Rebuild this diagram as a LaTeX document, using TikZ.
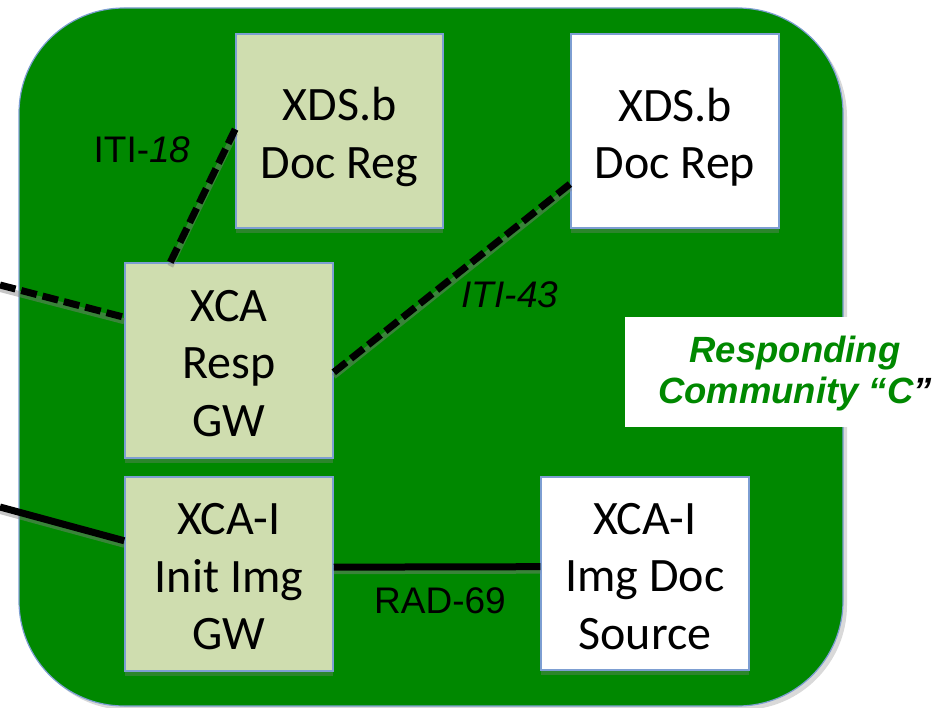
\documentclass[tikz,border=0pt]{standalone}
\usepackage{fontspec}
\setmainfont{Carlito}
\newfontfamily\arialfont{Liberation Sans}
\usetikzlibrary{shadows,calc}
\definecolor{commgreen}{RGB}{0,136,0}
\definecolor{boxfill}{RGB}{207,221,175}
\definecolor{edgeblue}{RGB}{125,158,210}
\begin{document}
\begin{tikzpicture}[x=1pt,y=-1pt,
  actor/.style={draw=edgeblue, line width=1.5pt, minimum width=208pt, inner sep=0pt,
    drop shadow={shadow xshift=0pt, shadow yshift=-5pt, opacity=0.35, fill=gray}},
  lightbox/.style={actor, fill=boxfill},
  whitebox/.style={actor, fill=white},
  boxtext/.style={align=center, inner sep=0pt, font=\fontsize{48}{57.5}\selectfont},
  conn/.style={line width=7pt, black,
    preaction={draw=gray, opacity=0.45, line width=6pt, transform canvas={yshift=-4pt}}},
  dashconn/.style={conn, dash pattern=on 16pt off 6pt},
  lbl/.style={font=\arialfont\fontsize{37}{42}\selectfont, inner sep=0pt},
]
\useasboundingbox (0,0) rectangle (939,708);
% community background
\node[draw=edgeblue, line width=1.2pt, fill=commgreen, rounded corners=105pt,
  minimum width=824pt, minimum height=698pt, inner sep=0pt,
  drop shadow={shadow xshift=4pt, shadow yshift=-4pt, opacity=0.3, fill=gray}]
  (comm) at (431,357) {};
% title box
\node[fill=white, minimum width=330pt, minimum height=110pt, inner sep=0pt] (titlebg) at (790,372) {};
\node[font=\arialfont\bfseries\itshape\fontsize{36.5}{41}\selectfont, text=commgreen, align=center, inner sep=0pt]
  (title) at (795,374) {Responding\\Community “C\textcolor{black}{”}};
% actors
\node[lightbox, minimum width=207pt, minimum height=194pt] (reg) at (339.5,131) {};
\node[whitebox, minimum height=194pt] (rep) at (675,131) {};
\node[lightbox, minimum height=195pt] (resp) at (229,360.5) {};
\node[lightbox, minimum height=194pt] (init) at (229,574) {};
\node[whitebox, minimum height=193pt] (src) at (645,573.5) {};
\node[boxtext] (regtext) at ($(reg.center)+(0,6)$) {XDS.b\\Doc Reg};
\node[boxtext] (reptext) at ($(rep.center)+(0,6)$) {XDS.b\\Doc Rep};
\node[boxtext] (resptext) at ($(resp.center)+(0,3)$) {XCA\\Resp\\GW};
\node[boxtext] (inittext) at ($(init.center)+(0,3)$) {XCA-I\\Init Img\\GW};
\node[boxtext] (srctext) at ($(src.center)+(0,3)$) {XCA-I\\Img Doc\\Source};
% free ends
\coordinate (leftA) at (0,285);
\coordinate (leftB) at (0,507);
% connectors
\draw[dashconn] ($(resp.north west)!0.22!(resp.north east)$) -- ($(reg.north west)!0.49!(reg.south west)$);
\draw[dashconn] ($(resp.north east)!0.56!(resp.south east)$) -- ($(rep.north west)!0.77!(rep.south west)$);
\draw[dashconn] (leftA) -- ($(resp.north west)!0.28!(resp.south west)$);
\draw[conn] (leftB) -- ($(init.north west)!0.33!(init.south west)$);
\draw[conn] ($(init.north east)!0.465!(init.south east)$) -- ($(src.north west)!0.465!(src.south west)$);
% labels
\node[lbl] (l18) at (142,150) {ITI-\textit{18}};
\node[lbl] (l43) at (510,295) {\textit{ITI-43}};
\node[lbl] (l69) at (440,601) {RAD-69};
\end{tikzpicture}
\end{document}
